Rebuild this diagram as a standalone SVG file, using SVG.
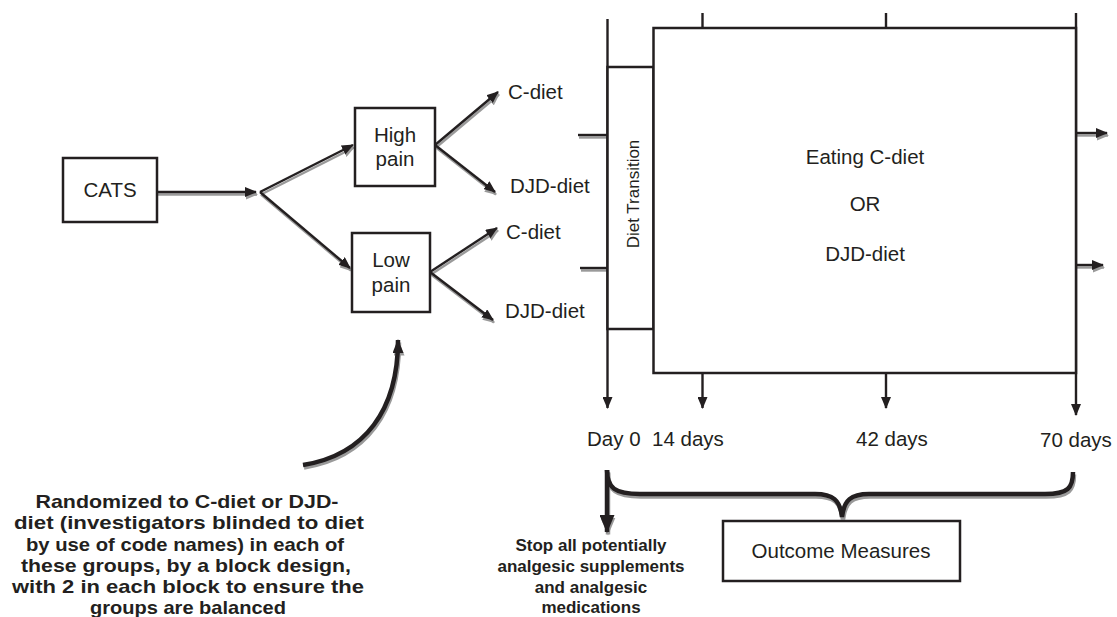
<svg xmlns="http://www.w3.org/2000/svg" width="1117" height="617" viewBox="0 0 1117 617">
<style>
.box{fill:#fff;stroke:#231f20;stroke-width:2.5}
.t{font-family:"Liberation Sans",Arial,sans-serif;font-size:20.5px;fill:#231f20}
.tb{font-family:"Liberation Sans",Arial,sans-serif;font-size:18.5px;font-weight:bold;fill:#231f20;text-anchor:middle}
.ts{font-family:"Liberation Sans",Arial,sans-serif;font-size:17px;font-weight:bold;fill:#231f20;text-anchor:middle}
.c{text-anchor:middle}
.ln{fill:none;stroke:#231f20;stroke-width:2.4}
.sh{fill:none;stroke:#9a9a9a;stroke-width:2.4}
.thk{fill:none;stroke:#231f20;stroke-width:4.5}
.thks{fill:none;stroke:#9a9a9a;stroke-width:4.5}
</style>
<defs>
<marker id="ah" viewBox="0 0 12 10" refX="11" refY="5" markerWidth="12" markerHeight="10" markerUnits="userSpaceOnUse" orient="auto"><path d="M0,0 L12,5 L0,10 z" fill="#231f20"/></marker>
<marker id="ahg" viewBox="0 0 12 10" refX="11" refY="5" markerWidth="12" markerHeight="10" markerUnits="userSpaceOnUse" orient="auto"><path d="M0,0 L12,5 L0,10 z" fill="#9a9a9a"/></marker>
<marker id="abig" viewBox="0 0 18 15" refX="17" refY="7.5" markerWidth="18" markerHeight="15" markerUnits="userSpaceOnUse" orient="auto"><path d="M0,0 L18,7.5 L0,15 z" fill="#231f20"/></marker>
<marker id="abigg" viewBox="0 0 18 15" refX="17" refY="7.5" markerWidth="18" markerHeight="15" markerUnits="userSpaceOnUse" orient="auto"><path d="M0,0 L18,7.5 L0,15 z" fill="#9a9a9a"/></marker>
<marker id="amid" viewBox="0 0 14 11" refX="13" refY="5.5" markerWidth="14" markerHeight="11" markerUnits="userSpaceOnUse" orient="auto"><path d="M0,0 L14,5.5 L0,11 z" fill="#231f20"/></marker>
<marker id="amidg" viewBox="0 0 14 11" refX="13" refY="5.5" markerWidth="14" markerHeight="11" markerUnits="userSpaceOnUse" orient="auto"><path d="M0,0 L14,5.5 L0,11 z" fill="#9a9a9a"/></marker>
</defs>
<rect width="1117" height="617" fill="#fff"/>

<g id="connectors">
  <g transform="translate(1,2.5)">
    <path class="sh" marker-end="url(#ahg)" d="M157,192 L256,192"/>
    <path class="sh" marker-end="url(#ahg)" d="M260,192 L353,145"/>
    <path class="sh" marker-end="url(#ahg)" d="M260,192 L350,268"/>
    <path class="sh" marker-end="url(#ahg)" d="M435,145 L498,92"/>
    <path class="sh" marker-end="url(#ahg)" d="M435,145 L495,192"/>
    <path class="sh" marker-end="url(#ahg)" d="M430,272 L497,228"/>
    <path class="sh" marker-end="url(#ahg)" d="M430,272 L493,320"/>
    <path class="sh" d="M578,135 L607,135"/>
    <path class="sh" d="M580,268 L607,268"/>
    <path class="sh" marker-end="url(#ahg)" d="M1076,133 L1107,133"/>
    <path class="sh" marker-end="url(#ahg)" d="M1076,265 L1103,265"/>
    <path class="thks" marker-end="url(#amidg)" d="M303,465 C365,455 398,410 398,340"/>
    <path class="thks" marker-end="url(#abigg)" d="M607,470 L607,532"/>
    <path class="thks" d="M607,470 C607,488 615,494 640,494 L815,494 C833,494 840,500 842,517 C844,500 851,494 869,494 L1045,494 C1068,494 1073,488 1073,472"/>
  </g>
  <path class="ln" marker-end="url(#ah)" d="M157,192 L256,192"/>
  <path class="ln" marker-end="url(#ah)" d="M260,192 L353,145"/>
  <path class="ln" marker-end="url(#ah)" d="M260,192 L350,268"/>
  <path class="ln" marker-end="url(#ah)" d="M435,145 L498,92"/>
  <path class="ln" marker-end="url(#ah)" d="M435,145 L495,192"/>
  <path class="ln" marker-end="url(#ah)" d="M430,272 L497,228"/>
  <path class="ln" marker-end="url(#ah)" d="M430,272 L493,320"/>
  <path class="ln" d="M578,135 L607,135"/>
  <path class="ln" d="M580,268 L607,268"/>
  <path class="ln" marker-end="url(#ah)" d="M1076,133 L1107,133"/>
  <path class="ln" marker-end="url(#ah)" d="M1076,265 L1103,265"/>
  <path class="ln" marker-end="url(#ah)" d="M607.5,19 L607.5,408"/>
  <path class="ln" d="M702.5,13 L702.5,28"/>
  <path class="ln" d="M886,13 L886,28"/>
  <path class="ln" marker-end="url(#ah)" d="M1076,13 L1076,415"/>
  <path class="ln" marker-end="url(#ah)" d="M702.5,373 L702.5,408"/>
  <path class="ln" marker-end="url(#ah)" d="M886,373 L886,408"/>
  <path class="thk" marker-end="url(#amid)" d="M303,465 C365,455 398,410 398,340"/>
  <path class="thk" marker-end="url(#abig)" d="M607,470 L607,532"/>
  <path class="thk" d="M607,470 C607,488 615,494 640,494 L815,494 C833,494 840,500 842,517 C844,500 851,494 869,494 L1045,494 C1068,494 1073,488 1073,472"/>
</g>

<g id="cats"><rect class="box" x="63" y="158" width="94" height="64"/><text class="t c" x="110" y="197">CATS</text></g>
<g id="high-pain"><rect class="box" x="355" y="108" width="80" height="78"/><text class="t c" x="395" y="142">High</text><text class="t c" x="395" y="166">pain</text></g>
<g id="low-pain"><rect class="box" x="352" y="233" width="78" height="79"/><text class="t c" x="391" y="267">Low</text><text class="t c" x="391" y="292">pain</text></g>
<g id="high-c"><text class="t" x="508" y="99">C-diet</text></g>
<g id="high-djd"><text class="t" x="510" y="193">DJD-diet</text></g>
<g id="low-c"><text class="t" x="506" y="239">C-diet</text></g>
<g id="low-djd"><text class="t" x="505" y="318">DJD-diet</text></g>
<g id="diet-transition"><rect class="box" x="607.5" y="67" width="46" height="262"/><text class="t c" style="font-size:17px" transform="translate(639,194) rotate(-90)">Diet Transition</text></g>
<g id="eating"><rect class="box" x="653.5" y="28" width="422.5" height="345"/><text class="t c" x="865" y="164">Eating C-diet</text><text class="t c" x="865" y="211">OR</text><text class="t c" x="865" y="261">DJD-diet</text></g>
<g id="days"><text class="t" x="587" y="446">Day 0</text><text class="t" x="652" y="446">14 days</text><text class="t" x="856" y="446">42 days</text><text class="t" x="1040" y="447">70 days</text></g>
<g id="outcome"><rect class="box" x="723" y="521" width="237" height="60"/><text class="t c" x="841" y="558">Outcome Measures</text></g>
<g id="stop-note"><text class="ts" x="591" y="551">Stop all potentially</text><text class="ts" x="591" y="572">analgesic supplements</text><text class="ts" x="591" y="593">and analgesic</text><text class="ts" x="591" y="613">medications</text></g>
<g id="random-note"><text class="tb" x="187" y="508" textLength="303" lengthAdjust="spacingAndGlyphs">Randomized to C-diet or DJD-</text><text class="tb" x="189" y="529" textLength="350" lengthAdjust="spacingAndGlyphs">diet (investigators blinded to diet</text><text class="tb" x="185" y="550.5" textLength="318" lengthAdjust="spacingAndGlyphs">by use of code names) in each of</text><text class="tb" x="186" y="571.5" textLength="330" lengthAdjust="spacingAndGlyphs">these groups, by a block design,</text><text class="tb" x="188" y="593" textLength="352" lengthAdjust="spacingAndGlyphs">with 2 in each block to ensure the</text><text class="tb" x="188" y="614" textLength="196" lengthAdjust="spacingAndGlyphs">groups are balanced</text></g>
</svg>
